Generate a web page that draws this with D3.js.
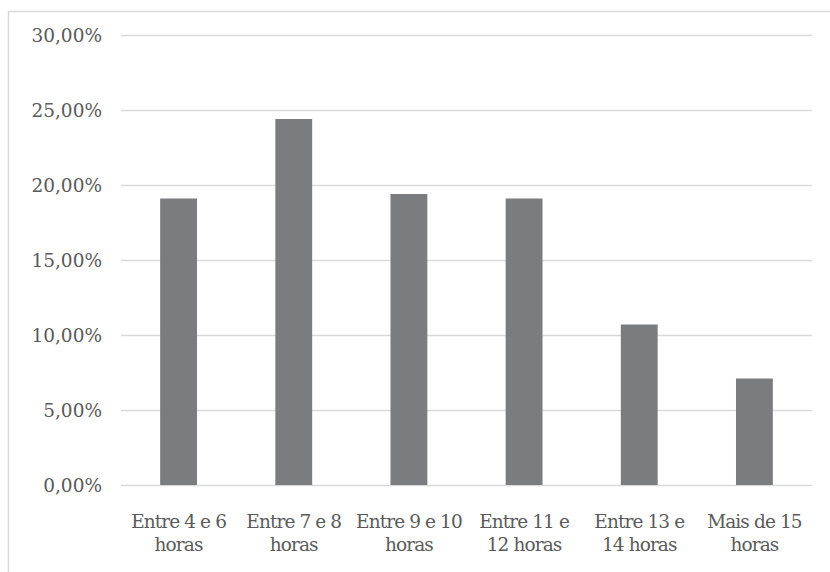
<!DOCTYPE html>
<html><head><meta charset="utf-8">
<script src="https://cdn.jsdelivr.net/npm/d3@7"></script>
<style>html,body{margin:0;padding:0;background:#fff;}svg{display:block;}</style>
</head><body>
<svg id="chart" width="830" height="572"></svg>
<script>
const categories = ["Entre 4 e 6\nhoras", "Entre 7 e 8\nhoras", "Entre 9 e 10\nhoras", "Entre 11 e\n12 horas", "Entre 13 e\n14 horas", "Mais de 15\nhoras"];
const values = [19.1, 24.4, 19.4, 19.1, 10.7, 7.1];
const yTicks = [0, 5, 10, 15, 20, 25, 30];

const svg = d3.select("#chart");
const margin = {left: 121, right: 18, top: 35, bottom: 87};
const W = 830, H = 572;
const x = d3.scaleBand().domain(categories).range([margin.left, W - margin.right]).paddingInner(0.68).paddingOuter(0.34);
const y = d3.scaleLinear().domain([0, 30]).range([H - margin.bottom, margin.top]);

svg.append("rect").attr("x", 8.5).attr("y", 11.5).attr("width", 900).attr("height", 700)
  .attr("fill", "#fff").attr("stroke", "#d9d9d9").attr("stroke-width", 1.5);

const font = "'DejaVu Serif', serif";
const fmt = v => v.toFixed(2).replace(".", ",") + "%";

const yAxis = svg.append("g").attr("transform", `translate(${margin.left},0)`)
  .call(d3.axisLeft(y).tickValues(yTicks).tickFormat(fmt).tickSize(-(W - margin.right - margin.left)).tickPadding(19));
yAxis.select(".domain").remove();
yAxis.selectAll(".tick line").attr("stroke", "#d9d9d9").attr("stroke-width", 1.3);
yAxis.selectAll(".tick text").attr("fill", "#5a5a5a").style("font-family", font).style("font-size", "18.5px").attr("dy", "0.34em");

svg.append("g").selectAll("rect").data(values).join("rect")
  .attr("x", (d, i) => x(categories[i]))
  .attr("width", x.bandwidth())
  .attr("y", d => y(d))
  .attr("height", d => y(0) - y(d))
  .attr("fill", "#7b7c80");

const xl = svg.append("g").selectAll("text").data(categories).join("text")
  .attr("x", d => x(d) + x.bandwidth() / 2)
  .attr("y", y(0) + 43)
  .attr("text-anchor", "middle")
  .attr("fill", "#5a5a5a")
  .style("font-family", font).style("font-size", "18.5px");
xl.each(function(d) {
  const lines = d.split("\n");
  d3.select(this).selectAll("tspan").data(lines).join("tspan")
    .attr("x", x(d) + x.bandwidth() / 2)
    .attr("dy", (l, i) => i === 0 ? 0 : 23)
    .attr("letter-spacing", "-0.9px")
    .text(l => l);
});
</script>
</body></html>
